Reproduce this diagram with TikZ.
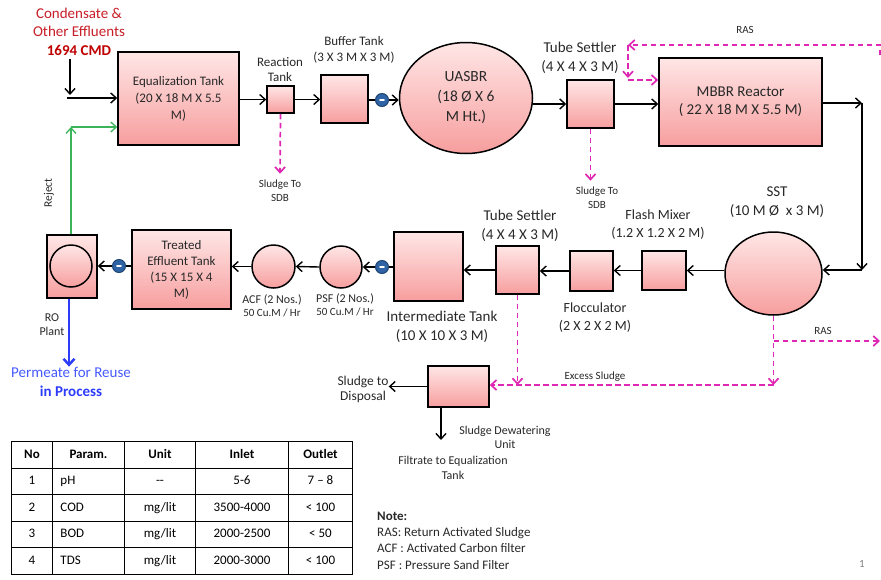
\documentclass[tikz,border=0pt]{standalone}
\usepackage{fontspec}
\setmainfont{Carlito}
\usetikzlibrary{shapes.geometric,arrows.meta,matrix,calc}
\definecolor{tanktop}{RGB}{255,230,230}
\definecolor{tankbot}{RGB}{247,158,158}
\definecolor{labelgray}{RGB}{40,40,40}
\definecolor{sludgecolor}{RGB}{222,40,180}
\definecolor{rejectcolor}{RGB}{60,180,90}
\definecolor{permeatecolor}{RGB}{45,60,250}
\definecolor{permeatetext}{RGB}{70,90,255}
\definecolor{pumpcolor}{RGB}{46,100,165}
\definecolor{feedcolor}{RGB}{200,30,40}
\definecolor{feedbold}{RGB}{192,0,0}
\newcommand{\fsbig}{\fontsize{15}{19}\selectfont}
\newcommand{\fsmid}{\fontsize{13}{16}\selectfont}
\newcommand{\fssmall}{\fontsize{11}{13.5}\selectfont}
\newcommand{\fstab}{\fontsize{13}{15}\selectfont}

\begin{document}
\begin{tikzpicture}[
    x=1pt, y=-1pt,
    tank/.style={
        rectangle, draw=black, line width=1.5pt,
        top color=tanktop, bottom color=tankbot,
        inner sep=0pt, align=center, text=labelgray, font=\fsmid
    },
    vessel/.style={tank, ellipse},
    filtervessel/.style={tank, circle},
    pump/.style={
        circle, fill=pumpcolor, draw=pumpcolor!70!black, line width=1pt,
        minimum size=13pt, inner sep=0pt,
        path picture={\draw[white, line width=1.8pt, line cap=round]
            ([xshift=-2pt]path picture bounding box.center) -- ([xshift=2pt]path picture bounding box.center);}
    },
    tag/.style={align=center, text=labelgray, inner sep=0pt},
    arrow/.style={-{Straight Barb[length=5.5pt,width=10pt]}, line width=1.4pt, black},
    sludgearrow/.style={-{Straight Barb[length=5.5pt,width=10pt]}, line width=1.7pt, sludgecolor, dash pattern=on 5.5pt off 3.5pt},
    rejectarrow/.style={-{Straight Barb[length=5.5pt,width=10pt]}, line width=1.3pt, rejectcolor},
    permeatearrow/.style={-{Straight Barb[length=6pt,width=11pt]}, line width=2.5pt, permeatecolor}
]
\useasboundingbox (0,0) rectangle (881,579);

% Feed
\node[tag, text=feedcolor, font=\fontsize{15}{18.5}\selectfont] (feed) at (79,31.5) {Condensate \&\\Other Effluents\\{\color{feedbold}\bfseries 1694 CMD}};

% Top row
\node[tank, minimum width=121pt, minimum height=93pt, font=\fontsize{13}{17}\selectfont] (eq) at (178.5,98.5) {Equalization Tank\\(20 X 18 M X 5.5\\M)};
\node[tank, minimum size=27pt] (reaction) at (280.5,99.5) {};
\node[tag, font=\fontsize{13}{15}\selectfont] (reactionlbl) at (280,69.5) {Reaction\\Tank};
\node[tank, minimum width=47pt, minimum height=48pt] (buffer) at (344.5,99) {};
\node[tag, font=\fsmid] (bufferlbl) at (354,50) {Buffer Tank\\(3 X 3 M X 3 M)};
\node[pump] (pump1) at (382,100) {};
\node[vessel, minimum width=133pt, minimum height=111pt, font=\fontsize{15.5}{20}\selectfont] (uasbr) at (466,98) {UASBR\\(18 Ø X 6\\M Ht.)};
\node[tank, minimum width=47pt, minimum height=48pt] (ts1) at (590.5,104) {};
\node[tag, font=\fsbig] (ts1lbl) at (580,57.5) {Tube Settler\\(4 X 4 X 3 M)};
\node[tank, minimum width=163pt, minimum height=88pt, font=\fontsize{15}{18}\selectfont] (mbbr) at (740.5,102) {MBBR Reactor\\( 22 X 18 M X 5.5 M)};
\node[tag, font=\fssmall] (sdbA) at (280,190.5) {Sludge To\\SDB};
\node[tag, font=\fssmall] (sdbB) at (597,197.5) {Sludge To\\SDB};
\node[tag, font=\fssmall] (rastop) at (745,30) {RAS};

% Second row
\node[vessel, minimum width=97pt, minimum height=83pt] (sst) at (773.5,273.5) {};
\node[tag, font=\fsbig] (sstlbl) at (777,202.5) {SST\\(10 M Ø\ \ x 3 M)};
\node[tank, minimum width=44pt, minimum height=39pt] (flash) at (664,270.5) {};
\node[tag, font=\fontsize{14}{18}\selectfont] (flashlbl) at (658,225) {Flash Mixer\\(1.2 X 1.2 X 2 M)};
\node[tank, minimum width=43pt, minimum height=40pt] (flocc) at (591.5,271) {};
\node[tag, font=\fontsize{14}{18}\selectfont] (flocclbl) at (595,318) {Flocculator\\(2 X 2 X 2 M)};
\node[tank, minimum width=43pt, minimum height=48pt] (ts2) at (517.5,270) {};
\node[tag, font=\fsbig] (ts2lbl) at (520,225.5) {Tube Settler\\(4 X 4 X 3 M)};
\node[tank, minimum size=69pt] (inter) at (428.5,266.5) {};
\node[tag, font=\fontsize{15}{19}\selectfont] (interlbl) at (442,326.5) {Intermediate Tank\\(10 X 10 X 3 M)};
\node[pump] (pump2) at (382,267) {};
\node[filtervessel, minimum size=42pt] (psf) at (341,267) {};
\node[tag, font=\fontsize{12}{13}\selectfont] (psflbl) at (345,304.5) {PSF (2 Nos.)\\{\fontsize{11}{13}\selectfont 50 Cu.M / Hr}};
\node[filtervessel, minimum size=43pt] (acf) at (273.5,266.5) {};
\node[tag, font=\fontsize{12}{13}\selectfont] (acflbl) at (272,305.5) {ACF (2 Nos.)\\{\fontsize{11}{13}\selectfont 50 Cu.M / Hr}};
\node[tank, minimum width=99pt, minimum height=79pt, font=\fontsize{13}{16}\selectfont] (treated) at (181.5,269.5) {Treated\\Effluent Tank\\(15 X 15 X 4\\M)};
\node[pump] (pump3) at (119,266) {};
\node[tank, minimum width=50pt, minimum height=63pt] (ro) at (72,266.5) {};
\node[filtervessel, minimum size=42pt] (romembrane) at (71,266) {};
\node[tag, font=\fontsize{12}{14}\selectfont] (rolbl) at (52,325) {RO\\Plant};
\node[tag, text=permeatetext, font=\fontsize{15}{19}\selectfont] (permeate) at (71,381.5) {Permeate for Reuse\\{\color{permeatecolor}\bfseries in Process}};
\node[tag, font=\fontsize{11.5}{14}\selectfont, rotate=90] (rejectlbl) at (49,193) {Reject};

% Sludge handling
\node[tag, font=\fssmall] (rasbot) at (823,331) {RAS};
\node[tag, font=\fssmall] (excesslbl) at (595,377) {Excess Sludge};
\node[tank, minimum width=61pt, minimum height=41pt] (dewater) at (458.5,386.5) {};
\node[tag, font=\fontsize{13.5}{15}\selectfont] (disposal) at (363,389.5) {Sludge to\\Disposal};
\node[tag, font=\fontsize{12}{14}\selectfont] (dewaterlbl) at (505,437) {Sludge Dewatering\\Unit};
\node[tag, font=\fontsize{12}{15}\selectfont] (filtrate) at (453,467.5) {Filtrate to Equalization\\Tank};

% Note
\node[tag, align=left, anchor=west, font=\fontsize{13}{16.3}\selectfont] (note) at (377,540.5) {\textbf{Note:}\\RAS: Return Activated Sludge\\ACF : Activated Carbon filter\\PSF : Pressure Sand Filter};
\node[tag, text=gray, font=\fontsize{11}{13}\selectfont] (pageno) at (862,564) {1};

% Parameter table
\matrix (params) [
    matrix of nodes, anchor=north west, inner sep=0pt, outer sep=0pt,
    column sep=-1pt, row sep=-1pt,
    nodes={draw, line width=1pt, minimum height=26.5pt, text height=9pt, text depth=2.5pt,
        inner xsep=0pt, outer sep=0pt, anchor=center, font=\fstab},
    column 1/.style={nodes={minimum width=41pt}},
    column 2/.style={nodes={text width=56pt, inner xsep=8pt, align=left}},
    column 3/.style={nodes={minimum width=71pt}},
    column 4/.style={nodes={minimum width=93pt}},
    column 5/.style={nodes={minimum width=64pt}},
    row 1/.style={nodes={font=\fstab\bfseries}},
    row 1 column 2/.style={nodes={align=center}}
] at (11,441) {
    No & Param. & Unit & Inlet & Outlet \\
    1 & pH & -{}- & 5-6 & 7 -- 8 \\
    2 & COD & mg/lit & 3500-4000 & < 100 \\
    3 & BOD & mg/lit & 2000-2500 & < 50 \\
    4 & TDS & mg/lit & 2000-3000 & < 100 \\
};

% Turning points
\coordinate (feedjoin) at (70,95);
\coordinate (feedin) at (67,98);
\coordinate (rejectturn) at (71,127);
\coordinate (rasedge) at (880,45);
\coordinate (rasturn) at (628,45);
\coordinate (rasdrop) at (628,78);
\coordinate (mbbrturn) at (862,103);
\coordinate (sstturn) at (862,270);
\coordinate (rasfork) at (773.5,341);
\coordinate (rasout) at (880,341);
\coordinate (sstdrop) at (773.5,385);
\coordinate (filtrateout) at (441,440);

% Arrows - main flow
\draw[arrow, shorten <=4pt] (feed.south -| feedjoin) -- (feedjoin);
\draw[arrow] (feedin) -- (feedin -| eq.west);
\draw[arrow] (eq.east |- reaction) -- (reaction.west);
\draw[arrow] (reaction.east) -- (reaction.east -| buffer.west);
\draw[line width=1.4pt] (buffer.east |- pump1) -- (pump1);
\draw[arrow] (pump1) -- (pump1 -| uasbr.west);
\draw[arrow] (uasbr.east |- ts1) -- (ts1.west);
\draw[arrow] (ts1.east) -- (ts1.east -| mbbr.west);
\draw[arrow] (mbbr.east |- mbbrturn) -- (mbbrturn);
\draw[arrow] (mbbrturn) -- (sstturn);
\draw[arrow] (sstturn) -- (sstturn -| sst.east);
\draw[arrow] (sst.west |- flash) -- (flash.east);
\draw[arrow] (flash.west) -- (flash.west -| flocc.east);
\draw[arrow] (flocc.west) -- (flocc.west -| ts2.east);
\draw[arrow] (ts2.west) -- (ts2.west -| inter.east);
\draw[line width=1.4pt] (inter.west |- pump2) -- (pump2);
\draw[arrow] (pump2) -- (psf.east);
\draw[arrow] (psf.west) -- (acf.east);
\draw[arrow] (acf.west) -- (acf.west -| treated.east);
\draw[line width=1.4pt] (treated.west |- pump3) -- (pump3);
\draw[arrow] (pump3) -- (pump3 -| ro.east);
\draw[permeatearrow] ([xshift=-3pt]ro.south) -- ([xshift=-3pt]ro.south |- permeate.north);
\draw[rejectarrow] (ro.north -| rejectturn) -- (rejectturn);
\draw[rejectarrow] (rejectturn) -- (rejectturn -| eq.west);

% Arrows - sludge and RAS
\draw[sludgearrow, shorten >=6pt] (reaction.south) -- (sdbA.north);
\draw[sludgearrow, shorten >=6pt] (ts1.south) -- (ts1.south |- sdbB.north);
\draw[sludgearrow] ([yshift=-10pt]rasedge) -- (rasedge) -- (rasturn);
\draw[sludgearrow] (rasturn) -- (rasdrop);
\draw[sludgearrow] ([yshift=-2pt]rasdrop) -- ([yshift=-2pt]rasdrop -| mbbr.west);
\draw[sludgearrow] (sst.south) -- (sstdrop);
\draw[sludgearrow] (rasfork) -- (rasout);
\draw[sludgearrow] (sstdrop) -- (sstdrop -| dewater.east);
\draw[sludgearrow] (ts2.south) -- (ts2.south |- sstdrop);
\draw[arrow] (dewater.west) -- (dewater.west -| disposal.east);
\draw[arrow] (dewater.south -| filtrateout) -- (filtrateout);

\end{tikzpicture}
\end{document}
